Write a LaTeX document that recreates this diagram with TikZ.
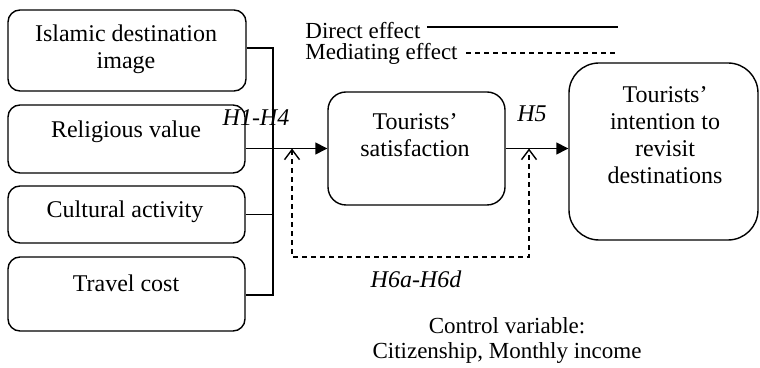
\documentclass[tikz,border=0pt]{standalone}
\usepackage{fontspec}
\setmainfont{Liberation Serif}
\usetikzlibrary{arrows.meta, calc, positioning}
\tikzset{
  box/.style      = {draw, rounded corners=6pt, line width=0.7pt, inner sep=0pt},
  direct/.style   = {line width=0.7pt},
  mediate/.style  = {line width=0.7pt, dash pattern=on 2.5pt off 2pt},
  solidtip/.style = {-{Triangle[length=6pt, width=6pt]}},
  opentip/.style  = {{Straight Barb[length=5pt, width=7.5pt]}-{Straight Barb[length=5pt, width=7.5pt]}},
  lbl/.style      = {font=\fontsize{12}{13.5}\selectfont, align=center, inner sep=0pt},
  hlbl/.style     = {font=\fontsize{12}{13.5}\selectfont\itshape, inner sep=0pt},
  slbl/.style     = {font=\fontsize{11.5}{12.5}\selectfont, align=center, inner sep=0pt},
}
\begin{document}
\begin{tikzpicture}[x=0.5pt,y=-0.5pt]
  \useasboundingbox (0,0) rectangle (760,368);
  % left column
  \node[box, minimum width=119pt, minimum height=40.5pt] (img) at (127,50.5) {};
  \node[box, minimum width=118.5pt, minimum height=34pt] (relig) at (126.5,139) {};
  \node[box, minimum width=118.5pt, minimum height=28.5pt] (cult) at (126.5,214.5) {};
  \node[box, minimum width=118.5pt, minimum height=37pt] (travel) at (126.5,294) {};
  \node[lbl] (imgtxt) at (126,49) {Islamic destination\\image};
  \node[lbl] (religtxt) at (126,132) {Religious value};
  \node[lbl] (culttxt) at (125,212) {Cultural activity};
  \node[lbl] (traveltxt) at (126,283) {Travel cost};
  % mediator and outcome
  \node[box, rounded corners=9pt, minimum width=88.5pt, minimum height=56.5pt] (sat) at (416.5,148.5) {};
  \node[box, rounded corners=15pt, minimum width=94.5pt, minimum height=88.5pt] (intent) at (663.5,151.5) {};
  \node[lbl] (sattxt) at (415,135) {Tourists’\\satisfaction};
  \node[lbl] (intenttxt) at (665,135) {Tourists’\\intention to\\revisit\\destinations};
  % direct paths
  \coordinate (bustop) at (273,48);
  \coordinate (busbot) at (273,295);
  \draw[direct] (img.east |- bustop) -- (bustop) -- (busbot) -- (travel.east |- busbot);
  \draw[direct] (cult.east) -- (cult.east -| bustop);
  \draw[direct, solidtip] (relig.east |- sat.west) -- (sat.west);
  \draw[direct, solidtip] (sat.east) -- (sat.east -| intent.west);
  \node[hlbl] (hone) at (256,118) {H1-H4};
  \node[hlbl] (hfive) at (532,114) {H5};
  % mediating path
  \coordinate (medl) at (292,257);
  \coordinate (medr) at (529,257);
  \draw[mediate, opentip] (medl |- sat.west) -- (medl) -- (medr) -- (medr |- sat.west);
  \node[hlbl] (hsix) at (416,279) {H6a-H6d};
  % legend
  \node[slbl, anchor=west] (ldir) at (305,31) {Direct effect};
  \node[slbl, anchor=west] (lmed) at (305,54) {Mediating effect};
  \coordinate (ldirend) at (618,27);
  \coordinate (lmedend) at (618,53);
  \draw[direct, shorten <=3pt] (ldir.east |- ldirend) -- (ldirend);
  \draw[mediate, shorten <=4pt] (lmed.east |- lmedend) -- (lmedend);
  % control
  \node[slbl] (ctrl) at (507,341) {Control variable:\\Citizenship, Monthly income};
\end{tikzpicture}
\end{document}
